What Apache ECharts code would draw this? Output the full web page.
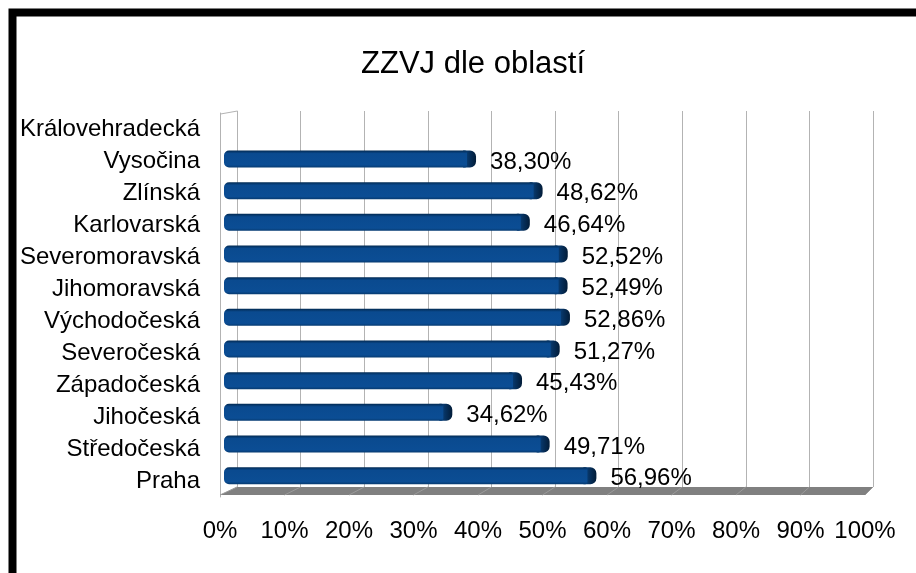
<!DOCTYPE html>
<html lang="cs">
<head>
    <meta charset="utf-8"/>
    <title>ZZVJ dle oblastí</title>
    <script src="https://cdn.jsdelivr.net/npm/echarts@6/dist/echarts.min.js"></script>
</head>
<body style="margin: 0; background: #fff">
<div id="chart" style="width: 916px; height: 573px"></div>
<script>
    // data, bottom to top
    const regions = ['Praha', 'Středočeská', 'Jihočeská', 'Západočeská', 'Severočeská', 'Východočeská',
        'Jihomoravská', 'Severomoravská', 'Karlovarská', 'Zlínská', 'Vysočina', 'Královehradecká'];
    const shares = [56.96, 49.71, 34.62, 45.43, 51.27, 52.86, 52.49, 52.52, 46.64, 48.62, 38.30, null];
    const xTicks = [0, 10, 20, 30, 40, 50, 60, 70, 80, 90, 100];

    const FONT = 'Liberation Sans, Arial, sans-serif';
    // front plane and back wall of the fake 3d box
    const FRONT = {left: 220, right: 51, top: 113, bottom: 76};
    const BACK = {left: 237, right: 43, top: 111, bottom: 86};
    const H = 573;

    const fmt = v => v.toFixed(2).replace('.', ',') + '%';

    function renderBar(params, api) {
        const v = api.value(0);
        const idx = api.value(1);
        if (v == null || isNaN(v)) return;
        const p0 = api.coord([0, idx]);
        const p1 = api.coord([v, idx]);
        const frontH = H - FRONT.top - FRONT.bottom;
        const backH = H - BACK.top - BACK.bottom;
        const yBack = BACK.top + (p0[1] - FRONT.top) * backH / frontH;
        const cy = (p0[1] + yBack) / 2;
        const x0 = p0[0] + 4, x1 = p1[0];
        return {
            type: 'group',
            children: [
                {
                    type: 'rect',
                    shape: {x: x1 - 4, y: cy - 9, width: 13, height: 17, r: [0, 6, 6, 0]},
                    style: {
                        fill: new echarts.graphic.LinearGradient(0, 0, 1, 0, [
                            {offset: 0, color: '#0a4889'},
                            {offset: 0.5, color: '#06305d'},
                            {offset: 1, color: '#021c38'}
                        ])
                    }
                },
                {
                    type: 'rect',
                    shape: {x: x0, y: cy - 9, width: x1 - x0, height: 17, r: [5, 2, 2, 5]},
                    style: {
                        fill: new echarts.graphic.LinearGradient(0, 0, 0, 1, [
                            {offset: 0, color: '#022a52'},
                            {offset: 0.18, color: '#0a4a8f'},
                            {offset: 0.85, color: '#0b4d94'},
                            {offset: 1, color: '#063a70'}
                        ])
                    }
                },
                {
                    type: 'text',
                    style: {
                        text: fmt(v), x: x1 + 23, y: cy + 2.5,
                        fill: '#000', font: '24px ' + FONT, verticalAlign: 'middle'
                    }
                }
            ]
        };
    }

    const chart = echarts.init(document.getElementById('chart'), null, {renderer: 'canvas'});
    chart.setOption({
        animation: false,
        backgroundColor: '#fff',
        title: {
            text: 'ZZVJ dle oblastí',
            left: 468, top: 44, textAlign: 'center',
            textStyle: {fontFamily: FONT, fontSize: 31, fontWeight: 'normal', color: '#000'}
        },
        grid: [
            {left: FRONT.left, right: FRONT.right, top: FRONT.top, bottom: FRONT.bottom},
            {left: BACK.left, right: BACK.right, top: BACK.top, bottom: BACK.bottom}
        ],
        xAxis: [
            {
                type: 'value', gridIndex: 0, min: 0, max: 100, interval: 10,
                axisLine: {show: false}, axisTick: {show: false}, splitLine: {show: false},
                axisLabel: {
                    margin: 22, color: '#000', fontFamily: FONT, fontSize: 24,
                    formatter: v => xTicks.includes(v) ? v + '%' : ''
                }
            },
            {
                type: 'value', gridIndex: 1, min: 0, max: 100, interval: 10,
                axisLine: {show: false}, axisTick: {show: false}, axisLabel: {show: false},
                splitLine: {show: true, lineStyle: {color: '#b3b3b3', width: 1}}
            }
        ],
        yAxis: [
            {
                type: 'category', gridIndex: 0, data: regions,
                axisLine: {show: true, lineStyle: {color: '#b3b3b3'}},
                axisTick: {show: false},
                axisLabel: {margin: 20, color: '#000', fontFamily: FONT, fontSize: 24}
            },
            {type: 'category', gridIndex: 1, data: regions, show: false}
        ],
        series: [{
            type: 'custom',
            xAxisIndex: 0, yAxisIndex: 0,
            renderItem: renderBar,
            z: 5,
            data: shares.map((v, i) => [v, i])
        }]
    });

    // floor, left wall top and frame, placed through the axes
    const fx = v => chart.convertToPixel({xAxisIndex: 0}, v);
    const bx = v => chart.convertToPixel({xAxisIndex: 1}, v);
    const fy = H - FRONT.bottom - 2, by = H - BACK.bottom;
    const graphics = [{
        type: 'polygon', z: 1,
        shape: {points: [[bx(0), by], [bx(100), by], [fx(100), fy], [fx(0), fy]]},
        style: {fill: '#808080'}
    }];
    xTicks.forEach(t => {
        graphics.push({
            type: 'line', z: 2,
            shape: {x1: bx(t), y1: by, x2: fx(t), y2: fy},
            style: {stroke: '#9a9a9a', lineWidth: 1}
        });
    });
    graphics.push({
        type: 'line', z: 2,
        shape: {x1: fx(0) + 0.5, y1: FRONT.top + 1, x2: bx(0) + 0.5, y2: BACK.top},
        style: {stroke: '#b3b3b3', lineWidth: 1}
    });
    graphics.push({
        type: 'rect', z: 100,
        shape: {x: 12.5, y: 12.5, width: 1200, height: 1200},
        style: {fill: 'none', stroke: '#000', lineWidth: 8}
    });
    chart.setOption({graphic: graphics});
</script>
</body>
</html>
